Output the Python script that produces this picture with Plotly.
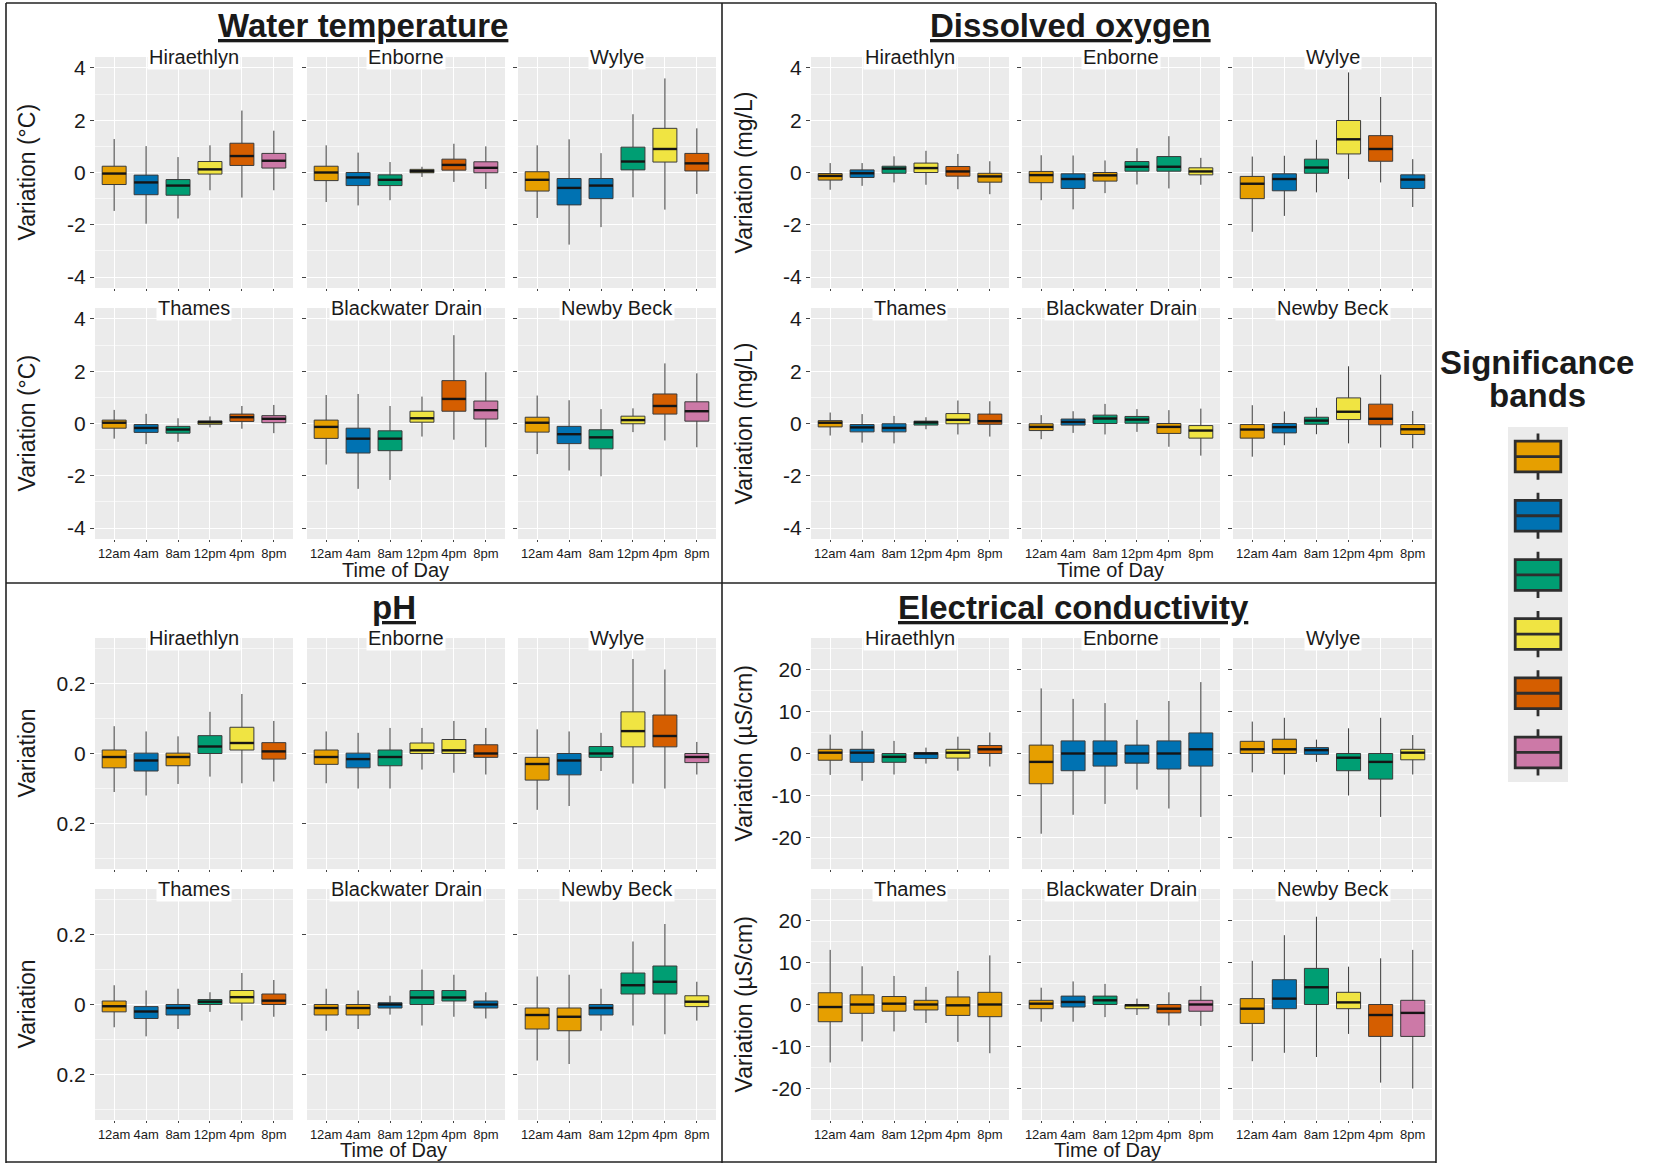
import plotly.graph_objects as go

# ---------------- data ----------------
TIMES = ["12am", "4am", "8am", "12pm", "4pm", "8pm"]
SITES = ["Hiraethlyn", "Enborne", "Wylye", "Thames", "Blackwater Drain", "Newby Beck"]
BAND_COLORS = ["#E69F00", "#0072B2", "#009E73", "#F0E442", "#D55E00", "#CC79A7"]
BAND_ORDER = [0, 1, 2, 3, 4, 5]

# Water temperature (per site: 6 time slots)
wt_lo = [[-1.47, -1.96, -1.76, -0.68, -0.96, -0.68], [-1.13, -1.26, -1.06, -0.17, -0.36, -0.63],
         [-1.74, -2.76, -2.09, -0.95, -1.42, -0.82], [-0.58, -0.79, -0.70, -0.15, -0.20, -0.37],
         [-1.57, -2.50, -2.16, -0.50, -0.62, -0.91], [-1.17, -1.80, -2.02, -0.33, -0.65, -0.91]]
wt_q1 = [[-0.46, -0.85, -0.87, -0.06, 0.27, 0.17], [-0.31, -0.50, -0.50, -0.01, 0.09, -0.01],
         [-0.71, -1.24, -1.00, 0.10, 0.40, 0.06], [-0.18, -0.34, -0.37, -0.03, 0.08, 0.03],
         [-0.57, -1.13, -1.04, 0.05, 0.47, 0.17], [-0.33, -0.77, -0.97, -0.01, 0.36, 0.09]]
wt_med = [[-0.04, -0.38, -0.50, 0.12, 0.63, 0.45], [0.00, -0.19, -0.28, 0.05, 0.29, 0.18],
          [-0.28, -0.59, -0.50, 0.42, 0.90, 0.35], [0.03, -0.17, -0.23, 0.05, 0.24, 0.18],
          [-0.13, -0.58, -0.58, 0.20, 0.94, 0.51], [0.03, -0.41, -0.53, 0.13, 0.67, 0.47]]
wt_q3 = [[0.24, -0.10, -0.27, 0.42, 1.12, 0.73], [0.24, 0.00, -0.09, 0.12, 0.51, 0.41],
         [0.03, -0.23, -0.23, 0.97, 1.69, 0.73], [0.13, -0.04, -0.11, 0.10, 0.36, 0.30],
         [0.13, -0.18, -0.28, 0.47, 1.64, 0.86], [0.24, -0.11, -0.24, 0.28, 1.13, 0.83]]
wt_hi = [[1.28, 1.01, 0.59, 1.04, 2.37, 1.60], [1.04, 0.76, 0.40, 0.22, 1.10, 1.00],
         [1.04, 1.27, 0.74, 2.23, 3.60, 1.69], [0.52, 0.37, 0.20, 0.27, 0.67, 0.71],
         [1.09, 1.13, 0.67, 1.03, 3.38, 1.96], [1.07, 0.89, 0.55, 0.58, 2.30, 1.92]]
wt_band = [[0, 1, 2, 3, 4, 5], [0, 1, 2, 3, 4, 5], [0, 1, 1, 2, 3, 4],
           [0, 1, 2, 3, 4, 5], [0, 1, 2, 3, 4, 5], [0, 1, 2, 3, 4, 5]]

# Dissolved oxygen
do_lo = [[-0.66, -0.51, -0.38, -0.47, -0.64, -0.83], [-1.06, -1.41, -0.79, -0.46, -0.61, -0.47],
         [-2.27, -1.66, -0.76, -0.25, -0.38, -1.32], [-0.46, -0.73, -0.76, -0.22, -0.42, -0.50],
         [-0.60, -0.36, -0.42, -0.32, -0.89, -1.23], [-1.27, -0.83, -0.41, -0.76, -0.92, -0.95]]
do_q1 = [[-0.29, -0.19, -0.03, 0.00, -0.14, -0.37], [-0.39, -0.61, -0.33, 0.05, 0.05, -0.09],
         [-1.00, -0.70, -0.03, 0.71, 0.43, -0.61], [-0.13, -0.32, -0.32, -0.06, -0.01, -0.03],
         [-0.27, -0.06, 0.00, 0.01, -0.38, -0.56], [-0.56, -0.36, -0.03, 0.15, -0.05, -0.42]]
do_med = [[-0.13, -0.03, 0.15, 0.17, 0.04, -0.15], [-0.10, -0.25, -0.11, 0.22, 0.22, 0.04],
          [-0.43, -0.25, 0.19, 1.27, 0.90, -0.27], [0.03, -0.15, -0.17, 0.04, 0.14, 0.09],
          [-0.13, 0.06, 0.19, 0.15, -0.13, -0.27], [-0.23, -0.14, 0.11, 0.45, 0.18, -0.22]]
do_q3 = [[-0.04, 0.10, 0.24, 0.36, 0.23, -0.03], [0.04, -0.05, 0.00, 0.42, 0.61, 0.18],
         [-0.15, -0.05, 0.51, 1.99, 1.41, -0.09], [0.11, -0.04, -0.01, 0.09, 0.38, 0.36],
         [-0.01, 0.17, 0.32, 0.27, 0.00, -0.08], [-0.04, 0.00, 0.24, 0.98, 0.74, -0.04]]
do_hi = [[0.36, 0.36, 0.62, 0.83, 0.71, 0.43], [0.66, 0.65, 0.46, 0.93, 1.39, 0.56],
         [0.61, 0.64, 1.25, 3.83, 2.89, 0.51], [0.42, 0.36, 0.29, 0.24, 0.88, 0.85],
         [0.32, 0.47, 0.75, 0.55, 0.51, 0.57], [0.70, 0.46, 0.60, 2.19, 1.87, 0.48]]
do_band = [[0, 1, 2, 3, 4, 0], [0, 1, 0, 2, 2, 3], [0, 1, 2, 3, 4, 1],
           [0, 1, 1, 2, 3, 4], [0, 1, 2, 2, 0, 3], [0, 1, 2, 3, 4, 0]]

# pH
ph_lo = [[-0.110, -0.120, -0.087, -0.066, -0.085, -0.080], [-0.085, -0.100, -0.100, -0.046, -0.055, -0.060],
         [-0.161, -0.150, -0.050, -0.086, -0.100, -0.060], [-0.065, -0.091, -0.070, -0.021, -0.046, -0.035],
         [-0.075, -0.070, -0.029, -0.060, -0.035, -0.040], [-0.160, -0.170, -0.075, -0.060, -0.085, -0.046]]
ph_q1 = [[-0.041, -0.050, -0.035, 0.000, 0.010, -0.016], [-0.031, -0.041, -0.035, 0.000, 0.000, -0.011],
         [-0.076, -0.061, -0.011, 0.019, 0.019, -0.026], [-0.021, -0.040, -0.030, 0.000, 0.004, 0.000],
         [-0.030, -0.030, -0.010, 0.000, 0.010, -0.010], [-0.070, -0.075, -0.030, 0.030, 0.030, -0.006]]
ph_med = [[-0.010, -0.020, -0.010, 0.020, 0.030, 0.006], [-0.010, -0.016, -0.010, 0.009, 0.009, 0.000],
          [-0.030, -0.020, 0.000, 0.064, 0.050, -0.010], [-0.005, -0.020, -0.010, 0.008, 0.021, 0.011],
          [-0.010, -0.010, 0.000, 0.020, 0.020, 0.000], [-0.030, -0.035, -0.010, 0.055, 0.065, 0.008]]
ph_q3 = [[0.010, 0.001, 0.001, 0.051, 0.075, 0.031], [0.010, 0.001, 0.010, 0.030, 0.040, 0.025],
         [-0.011, 0.000, 0.020, 0.119, 0.110, 0.000], [0.010, -0.006, 0.000, 0.014, 0.040, 0.030],
         [0.000, 0.000, 0.005, 0.040, 0.040, 0.010], [-0.010, -0.010, 0.000, 0.090, 0.110, 0.025]]
ph_hi = [[0.078, 0.063, 0.049, 0.119, 0.170, 0.093], [0.063, 0.059, 0.073, 0.073, 0.093, 0.073],
         [0.069, 0.063, 0.059, 0.270, 0.240, 0.033], [0.055, 0.040, 0.045, 0.035, 0.090, 0.070],
         [0.045, 0.040, 0.025, 0.100, 0.085, 0.035], [0.080, 0.085, 0.045, 0.180, 0.230, 0.065]]
ph_band = [[0, 1, 0, 2, 3, 4], [0, 1, 2, 3, 3, 4], [0, 1, 2, 3, 4, 5],
           [0, 1, 1, 2, 3, 4], [0, 0, 1, 2, 2, 1], [0, 0, 1, 2, 2, 3]]

# Electrical conductivity
ec_lo = [[-5.1, -6.5, -5.0, -2.4, -4.1, -3.1], [-19.1, -14.6, -12.0, -8.6, -13.1, -15.1],
         [-4.5, -5.0, -2.0, -10.0, -15.1, -5.0], [-13.8, -8.8, -6.4, -4.4, -8.9, -11.6],
         [-4.1, -4.1, -3.0, -2.5, -5.0, -5.1], [-13.5, -11.5, -12.5, -7.0, -18.6, -20.0]]
ec_q1 = [[-1.6, -2.1, -2.1, -1.2, -1.1, 0.0], [-7.2, -4.1, -3.0, -2.3, -3.7, -3.0],
         [0.0, 0.0, -0.2, -4.1, -6.1, -1.5], [-4.1, -2.1, -1.6, -1.3, -2.6, -2.9],
         [-1.0, -0.6, 0.0, -1.0, -2.0, -1.6], [-4.5, -1.0, 0.0, -1.0, -7.6, -7.6]]
ec_med = [[0.2, 0.2, -0.8, 0.0, 0.2, 1.0], [-2.0, 0.0, 0.0, 0.0, 0.0, 1.0],
          [1.0, 1.0, 0.8, -1.0, -2.0, 0.2], [-0.6, 0.0, 0.2, 0.0, -0.2, 0.0],
          [0.2, 0.6, 1.0, -0.2, -1.0, 0.0], [-1.0, 1.4, 4.1, 0.5, -2.5, -2.0]]
ec_q3 = [[1.0, 1.0, 0.0, 0.2, 1.0, 1.9], [2.0, 3.0, 3.0, 2.0, 3.0, 4.9],
         [2.9, 3.4, 1.4, 0.0, 0.0, 1.0], [2.8, 2.3, 1.9, 1.0, 1.8, 2.9],
         [1.0, 2.0, 2.0, 0.0, 0.0, 1.0], [1.4, 5.9, 8.6, 2.9, 0.0, 1.0]]
ec_hi = [[4.5, 5.4, 3.0, 1.4, 4.0, 5.0], [15.5, 13.0, 12.0, 8.0, 12.5, 17.0],
         [7.6, 8.5, 3.3, 6.0, 8.5, 4.4], [13.0, 9.1, 6.8, 4.2, 8.0, 11.7],
         [4.0, 5.5, 4.9, 1.4, 2.9, 4.4], [10.4, 16.5, 20.9, 9.0, 11.0, 13.0]]
ec_band = [[0, 1, 2, 1, 3, 4], [0, 1, 1, 1, 1, 1], [0, 0, 1, 2, 2, 3],
           [0, 0, 0, 0, 0, 0], [0, 1, 2, 3, 4, 5], [0, 1, 2, 3, 4, 5]]

# ---------------- layout helpers ----------------
W, H = 1653, 1163
LEFT_COLS = [(95, 293), (307, 505), (518, 716)]
RIGHT_COLS = [(811, 1009), (1022, 1220), (1233, 1432)]
TOP_ROWS = [(57, 288), (308, 539)]
BOT_ROWS = [(638, 869), (889, 1120)]

panels = [
    dict(title="Water temperature", lo=wt_lo, q1=wt_q1, med=wt_med, q3=wt_q3, hi=wt_hi, band=wt_band,
         cols=LEFT_COLS, rows=TOP_ROWS, yrange=[-4.42, 4.42], tv=[-4, -2, 0, 2, 4],
         tt=["-4", "-2", "0", "2", "4"], minor=[-3, -1, 1, 3], ytitle="Variation (°C)",
         title_xy=(363, 26), ytitle_x=26, xtitle_xy=(395, 570)),
    dict(title="Dissolved oxygen", lo=do_lo, q1=do_q1, med=do_med, q3=do_q3, hi=do_hi, band=do_band,
         cols=RIGHT_COLS, rows=TOP_ROWS, yrange=[-4.42, 4.42], tv=[-4, -2, 0, 2, 4],
         tt=["-4", "-2", "0", "2", "4"], minor=[-3, -1, 1, 3], ytitle="Variation (mg/L)",
         title_xy=(1070, 26), ytitle_x=743, xtitle_xy=(1110, 570)),
    dict(title="pH", lo=ph_lo, q1=ph_q1, med=ph_med, q3=ph_q3, hi=ph_hi, band=ph_band,
         cols=LEFT_COLS, rows=BOT_ROWS, yrange=[-0.33, 0.33], tv=[-0.2, 0, 0.2],
         tt=["0.2", "0", "0.2"], minor=[-0.3, -0.1, 0.1, 0.3], ytitle="Variation",
         title_xy=(394, 607), ytitle_x=26, xtitle_xy=(393, 1150)),
    dict(title="Electrical conductivity", lo=ec_lo, q1=ec_q1, med=ec_med, q3=ec_q3, hi=ec_hi, band=ec_band,
         cols=RIGHT_COLS, rows=BOT_ROWS, yrange=[-27.5, 27.5], tv=[-20, -10, 0, 10, 20],
         tt=["-20", "-10", "0", "10", "20"], minor=[-25, -15, -5, 5, 15, 25], ytitle="Variation (µS/cm)",
         title_xy=(1073, 607), ytitle_x=743, xtitle_xy=(1107, 1150)),
]

TXT = "#1a1a1a"
FONT = "Liberation Sans, Arial, sans-serif"

fig = go.Figure()
axes = {}
annotations = []
shapes = []

n = 0
for p in panels:
    for s in range(6):
        r, c = divmod(s, 3)
        n += 1
        xa, ya = f"x{n}", f"y{n}"
        x0, x1 = p["cols"][c]
        y0, y1 = p["rows"][r]
        for j in range(6):
            fig.add_trace(go.Box(
                x=[j], q1=[p["q1"][s][j]], median=[p["med"][s][j]], q3=[p["q3"][s][j]],
                lowerfence=[p["lo"][s][j]], upperfence=[p["hi"][s][j]],
                width=0.75, whiskerwidth=0, boxpoints=False,
                fillcolor=BAND_COLORS[p["band"][s][j]],
                line=dict(color="#3a3a3a", width=1),
                xaxis=xa, yaxis=ya, showlegend=False, hoverinfo="skip"))
        mx, my = [], []
        for j in range(6):
            m = p["med"][s][j]
            mx += [j - 0.375, j + 0.375, None]
            my += [m, m, None]
        fig.add_trace(go.Scatter(x=mx, y=my, mode="lines", line=dict(color="#151515", width=2.4),
                                 xaxis=xa, yaxis=ya, showlegend=False, hoverinfo="skip"))
        xkey = "xaxis" if n == 1 else f"xaxis{n}"
        ykey = "yaxis" if n == 1 else f"yaxis{n}"
        axes[xkey] = dict(domain=[x0 / W, x1 / W], anchor=ya, range=[-0.6, 5.6],
                          tickmode="array", tickvals=list(range(6)), ticktext=TIMES,
                          showticklabels=(r == 1), tickangle=0, ticks="outside", ticklen=2,
                          tickcolor="#444", tickwidth=1, showgrid=True, gridcolor="white", gridwidth=1,
                          zeroline=False, showline=False,
                          tickfont=dict(size=13, color=TXT, family=FONT))
        axes[ykey] = dict(domain=[1 - y1 / H, 1 - y0 / H], anchor=xa, range=p["yrange"],
                          tickmode="array", tickvals=p["tv"], ticktext=p["tt"],
                          showticklabels=(c == 0), ticks="outside", ticklen=4, tickcolor="#444",
                          tickwidth=1, showgrid=True, gridcolor="white", gridwidth=1,
                          zeroline=False, showline=False, tickfont=dict(size=21, color=TXT, family=FONT),
                          minor=dict(tickvals=p["minor"], showgrid=True, gridcolor="#F7F7F7",
                                     gridwidth=0.6, ticks=""))
        annotations.append(dict(x=(x0 + x1) / 2 / W, y=1 - y0 / H, xref="paper", yref="paper",
                                text=SITES[s], showarrow=False, xanchor="center", yanchor="middle",
                                bgcolor="white", borderpad=1,
                                font=dict(size=20, color=TXT, family=FONT)))
    # panel title
    tx, ty = p["title_xy"]
    annotations.append(dict(x=tx / W, y=1 - ty / H, xref="paper", yref="paper",
                            text=f"<b><u>{p['title']}</u></b>", showarrow=False,
                            xanchor="center", yanchor="middle",
                            font=dict(size=33, color=TXT, family=FONT)))
    # y titles (one per row)
    for r in range(2):
        y0, y1 = p["rows"][r]
        annotations.append(dict(x=p["ytitle_x"] / W, y=1 - (y0 + y1) / 2 / H, xref="paper", yref="paper",
                                text=p["ytitle"], showarrow=False, textangle=-90,
                                xanchor="center", yanchor="middle",
                                font=dict(size=23, color=TXT, family=FONT)))
    xx, xy = p["xtitle_xy"]
    annotations.append(dict(x=xx / W, y=1 - xy / H, xref="paper", yref="paper",
                            text="Time of Day", showarrow=False, xanchor="center", yanchor="middle",
                            font=dict(size=20, color=TXT, family=FONT)))

# ---------------- significance-band legend ----------------
n += 1
LEG_X = (1508, 1568)
LEG_Y = (427, 782)
for i, b in enumerate(BAND_ORDER):
    pos = 6 - i
    fig.add_trace(go.Box(x=[0], q1=[pos - 0.26], median=[pos], q3=[pos + 0.26],
                         lowerfence=[pos - 0.39], upperfence=[pos + 0.39],
                         width=0.76, whiskerwidth=0, boxpoints=False,
                         fillcolor=BAND_COLORS[b], line=dict(color="#2e2e2e", width=2.8),
                         xaxis=f"x{n}", yaxis=f"y{n}", showlegend=False, hoverinfo="skip"))
axes[f"xaxis{n}"] = dict(domain=[LEG_X[0] / W, LEG_X[1] / W], anchor=f"y{n}", range=[-0.5, 0.5],
                         showticklabels=False, showgrid=False, zeroline=False, ticks="")
axes[f"yaxis{n}"] = dict(domain=[1 - LEG_Y[1] / H, 1 - LEG_Y[0] / H], anchor=f"x{n}", range=[0.5, 6.5],
                         showticklabels=False, showgrid=False, zeroline=False, ticks="")
annotations.append(dict(x=1537 / W, y=1 - 363 / H, xref="paper", yref="paper", text="<b>Significance</b>",
                        showarrow=False, xanchor="center", yanchor="middle",
                        font=dict(size=33, color=TXT, family=FONT)))
annotations.append(dict(x=1537 / W, y=1 - 396 / H, xref="paper", yref="paper", text="<b>bands</b>",
                        showarrow=False, xanchor="center", yanchor="middle",
                        font=dict(size=33, color=TXT, family=FONT)))

# ---------------- frame lines ----------------
LINE = dict(color="#222222", width=1.6)
for (xa0, ya0, xa1, ya1) in [(6, 3, 1436, 3), (6, 583, 1436, 583), (6, 1162, 1436, 1162),
                             (6, 3, 6, 1163), (722, 3, 722, 1163), (1436, 3, 1436, 1163)]:
    shapes.append(dict(type="line", xref="paper", yref="paper",
                       x0=xa0 / W, y0=1 - ya0 / H, x1=xa1 / W, y1=1 - ya1 / H, line=LINE))

fig.update_layout(
    width=W, height=H, autosize=False,
    margin=dict(l=0, r=0, t=0, b=0),
    paper_bgcolor="white", plot_bgcolor="#EBEBEB",
    boxmode="overlay",
    font=dict(family=FONT, color=TXT),
    annotations=annotations, shapes=shapes,
    **axes,
)

fig.write_html("out.html", config={"displayModeBar": False},
               post_script="document.body.style.margin='0';document.body.style.overflow='hidden';")
